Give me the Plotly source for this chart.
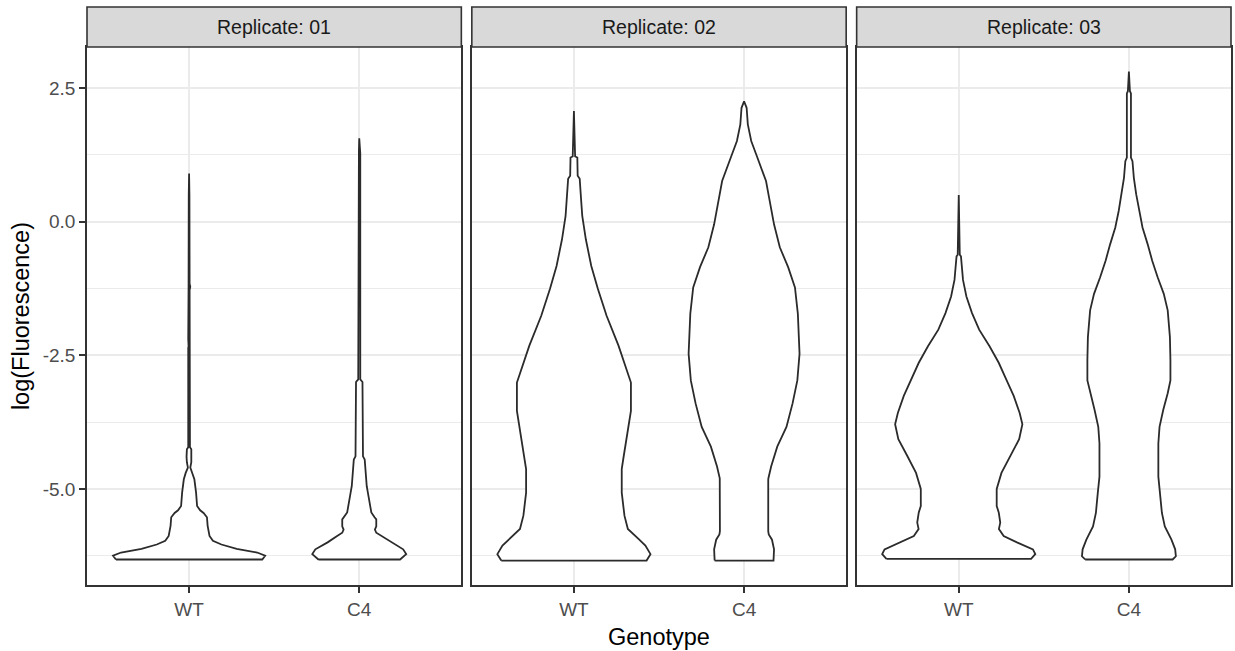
import plotly.graph_objects as go

# ---------------- data ----------------
replicates = ["Replicate: 01", "Replicate: 02", "Replicate: 03"]
genotypes = ["WT", "C4"]
y_ticks = [-5.0, -2.5, 0.0, 2.5]
y_tick_labels = ["-5.0", "-2.5", "0.0", "2.5"]
y_minor = [-6.25, -3.75, -1.25, 1.25]

# violin outlines: y levels (bottom -> top) and half widths (x data units)
r1_wt_y = [-6.32, -6.25, -6.19, -6.12, -6.04, -5.97, -5.88, -5.69, -5.53, -5.45, -5.40, -5.32,
           -5.07, -4.82, -4.70, -4.60, -4.50, -4.40, -4.26, -4.22, -2.36, -2.33, -2.20, -1.71,
           -1.68, -1.28, -1.22, -1.16, 0.50, 0.90]
r1_wt_hw = [0.43, 0.447, 0.40, 0.28, 0.19, 0.14, 0.12, 0.109, 0.105, 0.085, 0.065, 0.047,
            0.041, 0.031, 0.020, 0.007, 0.013, 0.015, 0.013, 0.005, 0.005, 0.003, 0.005, 0.005,
            0.003, 0.003, 0.007, 0.003, 0.002, 0.0]

r1_c4_y = [-6.32, -6.22, -6.13, -6.00, -5.88, -5.82, -5.76, -5.70, -5.57, -5.53, -5.44, -5.13,
           -4.95, -4.70, -4.45, -4.39, -3.00, -2.95, 1.28, 1.32, 1.56]
r1_c4_hw = [0.24, 0.276, 0.258, 0.186, 0.13, 0.10, 0.092, 0.10, 0.10, 0.09, 0.071, 0.054,
            0.044, 0.038, 0.032, 0.022, 0.019, 0.006, 0.006, 0.002, 0.0]

r2_wt_y = [-6.34, -6.22, -6.06, -5.94, -5.75, -5.50, -5.07, -4.63, -4.44, -3.94, -3.54, -3.01,
           -2.70, -2.32, -1.76, -1.26, -0.83, -0.33, 0.11, 0.42, 0.80, 0.86, 1.20, 1.22, 2.07]
r2_wt_hw = [0.427, 0.45, 0.42, 0.381, 0.317, 0.297, 0.281, 0.281, 0.29, 0.317, 0.335, 0.335,
            0.303, 0.262, 0.192, 0.141, 0.102, 0.070, 0.049, 0.042, 0.034, 0.022, 0.020, 0.007, 0.0]

r2_c4_y = [-6.34, -6.13, -5.95, -5.85, -5.79, -4.83, -4.80, -4.58, -4.21, -3.84, -3.40, -2.97,
           -2.47, -1.72, -1.23, -0.85, -0.48, -0.05, 0.45, 0.76, 1.20, 1.51, 1.82, 2.13, 2.25]
r2_c4_hw = [0.173, 0.176, 0.164, 0.145, 0.142, 0.142, 0.143, 0.159, 0.195, 0.249, 0.285, 0.313,
            0.326, 0.316, 0.299, 0.259, 0.210, 0.176, 0.147, 0.129, 0.078, 0.042, 0.022, 0.015, 0.0]

r3_wt_y = [-6.31, -6.22, -6.13, -6.00, -5.88, -5.75, -5.63, -5.44, -5.32, -5.00, -4.70, -4.38,
           -4.07, -3.79, -3.58, -3.26, -2.95, -2.64, -2.33, -2.02, -1.71, -1.40, -1.09, -0.65,
           -0.62, 0.50]
r3_wt_hw = [0.425, 0.45, 0.436, 0.342, 0.264, 0.236, 0.244, 0.235, 0.223, 0.223, 0.251, 0.303,
            0.355, 0.374, 0.358, 0.323, 0.279, 0.235, 0.181, 0.120, 0.078, 0.045, 0.025, 0.013,
            0.006, 0.0]

r3_c4_y = [-6.32, -6.26, -6.13, -5.95, -5.70, -5.45, -5.08, -4.77, -4.15, -3.84, -3.52, -3.21,
           -2.97, -2.59, -2.16, -1.66, -1.35, -1.04, -0.73, -0.42, -0.11, 0.20, 0.51, 0.82,
           1.13, 1.20, 2.40, 2.44, 2.81]
r3_c4_hw = [0.257, 0.276, 0.272, 0.25, 0.211, 0.194, 0.183, 0.173, 0.173, 0.18, 0.202, 0.228,
            0.244, 0.244, 0.241, 0.228, 0.205, 0.169, 0.137, 0.11, 0.08, 0.06, 0.043, 0.029,
            0.021, 0.012, 0.012, 0.006, 0.0]

profiles = [
    [(r1_wt_y, r1_wt_hw), (r1_c4_y, r1_c4_hw)],
    [(r2_wt_y, r2_wt_hw), (r2_c4_y, r2_c4_hw)],
    [(r3_wt_y, r3_wt_hw), (r3_c4_y, r3_c4_hw)],
]

# ---------------- styling ----------------
FONT = "Liberation Sans, Arial, sans-serif"
W, H = 1235, 651
ML, MR, MT, MB = 87, 2, 47, 66
plot_w = W - ML - MR
plot_h = H - MT - MB
panel_w = 375.0
gap = (plot_w - 3 * panel_w) / 2
strip_h = 40

all_y = [v for p in profiles for (ys, _) in p for v in ys]
ymin, ymax = min(all_y), max(all_y)
pad = 0.05 * (ymax - ymin)
y_range = [ymin - pad, ymax + pad]

fig = go.Figure()

for i, panel in enumerate(profiles):
    sfx = "" if i == 0 else str(i + 1)
    for j, (ys, hws) in enumerate(panel):
        c = j + 1
        xs = [c - h for h in hws] + [c + h for h in reversed(hws)] + [c - hws[0]]
        yy = list(ys) + list(reversed(ys)) + [ys[0]]
        fig.add_trace(go.Scatter(
            x=xs, y=yy, mode="lines", fill="toself", fillcolor="white",
            line=dict(color="#2B2B2B", width=1.8),
            xaxis="x" + sfx, yaxis="y" + sfx, showlegend=False, hoverinfo="skip",
        ))

layout = dict(
    width=W, height=H,
    margin=dict(l=ML, r=MR, t=MT, b=MB, pad=0),
    paper_bgcolor="white", plot_bgcolor="white",
    font=dict(family=FONT, color="#4D4D4D"),
    showlegend=False,
    shapes=[], annotations=[],
)

for i in range(3):
    sfx = "" if i == 0 else str(i + 1)
    x0 = (i * (panel_w + gap)) / plot_w
    x1 = (i * (panel_w + gap) + panel_w) / plot_w
    layout["xaxis" + sfx] = dict(
        domain=[x0, min(x1, 1.0)], range=[0.4, 2.6], anchor="y" + sfx,
        tickmode="array", tickvals=[1, 2], ticktext=genotypes,
        showgrid=True, gridcolor="#EBEBEB", gridwidth=1.5, zeroline=False,
        showline=True, mirror=True, linecolor="#333333", linewidth=1.6,
        ticks="outside", ticklen=6, tickwidth=1.5, tickcolor="#333333",
        tickfont=dict(size=19, color="#4D4D4D", family=FONT),
        fixedrange=True,
    )
    ya = dict(
        domain=[0, 1], range=y_range, anchor="x" + sfx,
        tickmode="array", tickvals=y_ticks, ticktext=y_tick_labels,
        showgrid=True, gridcolor="#EBEBEB", gridwidth=1.5, zeroline=False,
        minor=dict(tickmode="array", tickvals=y_minor, showgrid=True,
                   gridcolor="#EBEBEB", gridwidth=1.0, ticks=""),
        showline=True, mirror=True, linecolor="#333333", linewidth=1.6,
        fixedrange=True,
    )
    if i == 0:
        ya.update(ticks="outside", ticklen=6, tickwidth=1.5, tickcolor="#333333",
                  tickfont=dict(size=19, color="#4D4D4D", family=FONT))
    else:
        ya.update(ticks="", showticklabels=False, matches="y")
    layout["yaxis" + sfx] = ya

    layout["shapes"].append(dict(
        type="rect", xref="x" + sfx + " domain", yref="paper",
        x0=0, x1=1, y0=1, y1=1 + strip_h / plot_h,
        fillcolor="#D9D9D9", line=dict(color="#333333", width=1.6), layer="above",
    ))
    layout["annotations"].append(dict(
        text=replicates[i], xref="x" + sfx + " domain", yref="paper",
        x=0.5, y=1 + (strip_h / 2) / plot_h, xanchor="center", yanchor="middle",
        showarrow=False, font=dict(size=19.5, color="#1A1A1A", family=FONT),
    ))

layout["annotations"].append(dict(
    text="Genotype", xref="paper", yref="paper", x=0.5, y=-(637 - (H - MB)) / plot_h,
    xanchor="center", yanchor="middle", showarrow=False,
    font=dict(size=23.5, color="black", family=FONT),
))
layout["annotations"].append(dict(
    text="log(Fluorescence)", xref="paper", yref="paper", x=(21 - ML) / plot_w, y=0.5,
    xanchor="center", yanchor="middle", textangle=-90, showarrow=False,
    font=dict(size=23.5, color="black", family=FONT),
))

fig.update_layout(**layout)
fig.write_html("out.html")
